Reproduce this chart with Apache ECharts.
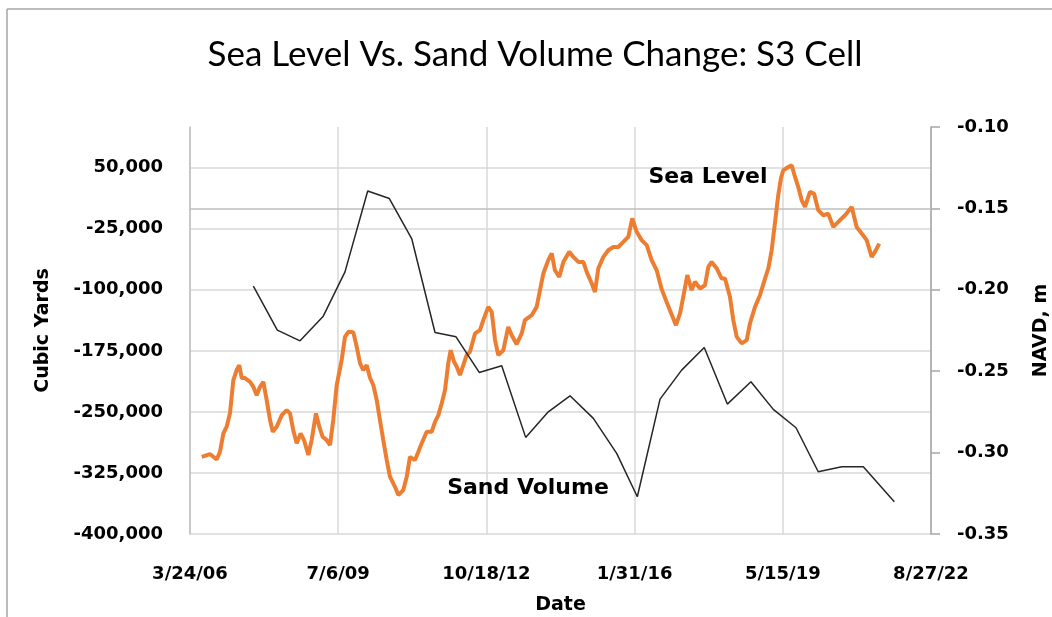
<!DOCTYPE html>
<html><head><meta charset="utf-8">
<script src="https://cdn.jsdelivr.net/npm/echarts@6/dist/echarts.min.js"></script>
<style>html,body{margin:0;padding:0;background:#fff}#c{width:1052px;height:617px}</style>
</head><body><div id="c"></div>
<script>
// Dates are Excel serial day numbers (38800 = 3/24/06)
const xMin = 38800, xMax = 44800, xStep = 1200;

const sandDates = [39313,39507,39691,39879,40055,40239,40414,40595,40784,40954,41142,41324,41518,41701,41877,42066,42255,42422,42606,42781,42964,43151,43342,43523,43707,43887,44077,44252,44503];
const sandVolume = [-95600,-149600,-162700,-132400,-78000,21400,12100,-37000,-152400,-157800,-201500,-193400,-281300,-249900,-230200,-258000,-300900,-354200,-234300,-198700,-170800,-240400,-213000,-246900,-269500,-323500,-317400,-317400,-360400];

const seaDates = [
38895,38962,39016,39043,39070,39097,39124,39151,39178,39199,
39219,39245,39286,39313,39340,39367,39394,39421,39448,39470,
39502,39543,39583,39610,39636,39664,39696,39723,39758,39785,
39820,39847,39874,39907,39934,39960,39988,40028,40055,40082,
40122,40150,40177,40203,40231,40258,40284,40312,40338,40365,
40393,40419,40460,40487,40527,40555,40581,40622,40649,40676,
40717,40757,40784,40811,40838,40865,40891,40911,40938,40960,
40986,41013,41040,41067,41108,41148,41175,41215,41243,41270,
41296,41337,41377,41405,41445,41486,41512,41567,41607,41634,
41661,41701,41729,41755,41790,41823,41871,41904,41944,41985,
42012,42053,42079,42106,42147,42187,42228,42268,42309,42349,
42381,42417,42457,42498,42538,42579,42619,42660,42735,42768,
42794,42827,42862,42889,42930,42970,42997,43024,43065,43105,
43132,43172,43199,43227,43267,43308,43334,43375,43415,43456,
43483,43510,43537,43563,43585,43604,43645,43672,43699,43725,
43753,43780,43820,43853,43887,43928,43968,44009,44049,44104,
44158,44198,44239,44279,44320,44346,44381];
const seaLevel = [
-0.3026,-0.3009,-0.3042,-0.2995,-0.2882,-0.2841,-0.2757,-0.2555,-0.2493,-0.2463,
-0.2542,-0.2542,-0.2565,-0.2596,-0.2647,-0.2596,-0.2565,-0.2678,-0.2800,-0.2872,
-0.2841,-0.2770,-0.2739,-0.2759,-0.2862,-0.2943,-0.2882,-0.2923,-0.3015,-0.2923,
-0.2759,-0.2841,-0.2903,-0.2923,-0.2954,-0.2800,-0.2585,-0.2432,-0.2289,-0.2258,
-0.2260,-0.2350,-0.2452,-0.2493,-0.2463,-0.2542,-0.2585,-0.2678,-0.2800,-0.2923,
-0.3046,-0.3148,-0.3210,-0.3261,-0.3230,-0.3148,-0.3026,-0.3046,-0.2995,-0.2943,
-0.2872,-0.2872,-0.2811,-0.2770,-0.2698,-0.2616,-0.2452,-0.2371,-0.2442,-0.2473,
-0.2524,-0.2463,-0.2401,-0.2381,-0.2268,-0.2248,-0.2186,-0.2105,-0.2136,-0.2309,
-0.2401,-0.2371,-0.2228,-0.2279,-0.2334,-0.2268,-0.2186,-0.2156,-0.2105,-0.2002,
-0.1900,-0.1818,-0.1777,-0.1880,-0.1921,-0.1829,-0.1767,-0.1798,-0.1829,-0.1829,
-0.1890,-0.1961,-0.2013,-0.1869,-0.1798,-0.1757,-0.1737,-0.1737,-0.1706,-0.1675,
-0.1562,-0.1644,-0.1695,-0.1726,-0.1818,-0.1880,-0.1996,-0.2076,-0.2217,-0.2145,
-0.2043,-0.1910,-0.2002,-0.1951,-0.1992,-0.1972,-0.1859,-0.1829,-0.1869,-0.1931,
-0.1931,-0.2043,-0.2186,-0.2289,-0.2329,-0.2309,-0.2207,-0.2105,-0.2033,-0.1931,
-0.1869,-0.1757,-0.1585,-0.1419,-0.1315,-0.1266,-0.1246,-0.1235,-0.1307,-0.1368,
-0.1450,-0.1491,-0.1399,-0.1409,-0.1511,-0.1542,-0.1532,-0.1614,-0.1583,-0.1542,
-0.1491,-0.1614,-0.1654,-0.1695,-0.1798,-0.1767,-0.1716];

const titleText = 'Sea Level Vs. Sand Volume Change: S3 Cell';
const seaLabel = 'Sea Level';
const sandLabel = 'Sand Volume';

function serialToLabel(s) {
  const d = new Date(Date.UTC(1899, 11, 30) + Math.round(s) * 86400000);
  return (d.getUTCMonth() + 1) + '/' + d.getUTCDate() + '/' + String(d.getUTCFullYear()).slice(-2);
}

const TITLE_FONT = 'Lato, "Open Sans", sans-serif';
const FONT = '"DejaVu Sans", Verdana, sans-serif';
const axisLabelStyle = { color: '#000', fontFamily: FONT, fontWeight: 'bold', fontSize: 18 };
const nameStyle = { color: '#000', fontFamily: FONT, fontWeight: 'bold', fontSize: 19 };
const gridColor = '#d9d9d9';

const chart = echarts.init(document.getElementById('c'), null, { renderer: 'canvas' });
chart.setOption({
  animation: false,
  backgroundColor: '#fff',
  grid: { left: 190, right: 121, top: 127, bottom: 83, containLabel: false, outerBoundsMode: 'none' },
  xAxis: {
    type: 'value', min: xMin, max: xMax, interval: xStep,
    name: 'Date', nameLocation: 'middle', nameGap: 62,
    nameTextStyle: nameStyle,
    axisLine: { show: true, lineStyle: { color: '#bfbfbf', width: 1.5 } },
    axisTick: { show: false },
    axisLabel: Object.assign({ margin: 31, formatter: serialToLabel }, axisLabelStyle),
    splitLine: { show: true, lineStyle: { color: gridColor, width: 1.5 } }
  },
  yAxis: [
    {
      type: 'value', position: 'left', min: -400000, max: 100000, interval: 75000,
      name: 'Cubic Yards', nameLocation: 'middle', nameGap: 137,
      nameTextStyle: nameStyle,
      axisLine: { show: true, lineStyle: { color: '#bfbfbf', width: 1.5 } },
      axisTick: { show: false },
      axisLabel: Object.assign({ margin: 27, showMaxLabel: false,
        formatter: v => v.toLocaleString('en-US') }, axisLabelStyle),
      splitLine: { show: true, showMaxLine: false, lineStyle: { color: gridColor, width: 1.5 } }
    },
    {
      type: 'value', position: 'right', min: -0.35, max: -0.10, interval: 0.05,
      name: 'NAVD, m', nameLocation: 'middle', nameGap: 101,
      nameTextStyle: nameStyle,
      axisLine: { show: true, lineStyle: { color: '#a6a6a6', width: 1.5 } },
      axisTick: { show: true, length: 9, lineStyle: { color: '#a6a6a6', width: 1.5 } },
      axisLabel: Object.assign({ margin: 26, formatter: v => v.toFixed(2) }, axisLabelStyle),
      splitLine: { show: false }
    }
  ],
  graphic: [
    { type: 'line', shape: { x1: 7, y1: 9, x2: 7, y2: 640 }, style: { stroke: '#a6a6a6', lineWidth: 1.5 } },
    { type: 'line', shape: { x1: 7, y1: 9, x2: 1060, y2: 9 }, style: { stroke: '#a6a6a6', lineWidth: 1.5 } },
    { type: 'text', x: 535, y: 55, style: { text: titleText, fill: '#000', font: '35px ' + TITLE_FONT, textAlign: 'center', textVerticalAlign: 'middle' } },
    { type: 'text', x: 708, y: 177, z: 10, style: { text: seaLabel, fill: '#000', font: 'bold 22px ' + FONT, textAlign: 'center', textVerticalAlign: 'middle' } },
    { type: 'text', x: 528, y: 488, z: 10, style: { text: sandLabel, fill: '#000', font: 'bold 22px ' + FONT, textAlign: 'center', textVerticalAlign: 'middle' } }
  ],
  series: [
    {
      name: 'Sea Level', type: 'line', yAxisIndex: 1, showSymbol: false, symbol: 'none',
      data: seaDates.map((d, i) => [d, seaLevel[i]]),
      lineStyle: { color: '#ED7D31', width: 4 }, z: 2
    },
    {
      name: 'Sand Volume', type: 'line', yAxisIndex: 0, showSymbol: false, symbol: 'none',
      data: sandDates.map((d, i) => [d, sandVolume[i]]),
      lineStyle: { color: '#262626', width: 1.5 }, z: 3
    }
  ]
});
</script></body></html>
